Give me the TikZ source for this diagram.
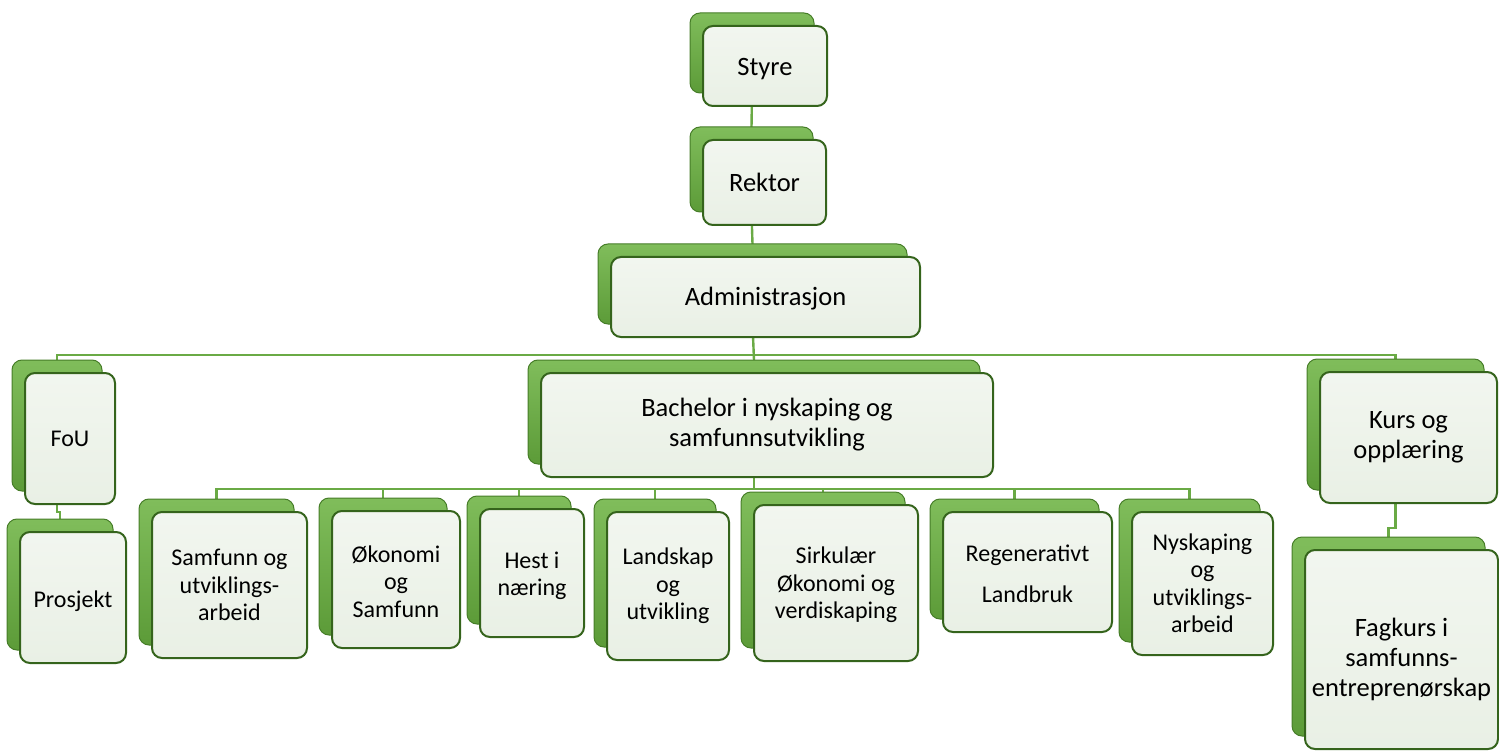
\documentclass[tikz,border=0pt]{standalone}
\usepackage{fontspec}
\setmainfont{Carlito}
\usetikzlibrary{backgrounds}
\definecolor{lineg}{HTML}{6AAA45}
\definecolor{shadg}{HTML}{5C9B38}
\definecolor{shadgd}{HTML}{467D28}
\definecolor{shadgl}{HTML}{80BD5B}
\definecolor{frontf}{HTML}{E9F0E5}
\definecolor{frontd}{HTML}{35641C}
\tikzset{
  shadowbox/.style={draw=shadgd, line width=1pt, rounded corners=10pt,
    top color=shadgl, bottom color=shadg, inner sep=0pt, outer sep=0pt},
  frontbox/.style={draw=frontd, line width=2pt, rounded corners=10pt,
    top color=frontf!60!white, bottom color=frontf, inner sep=0pt, outer sep=0pt},
  boxtext/.style={align=center, inner sep=0pt, text=black,
    font=\fontsize{24}{27.5}\selectfont},
  bigtext/.style={font=\fontsize{26.5}{30}\selectfont},
  conn/.style={draw=lineg, line width=2.4pt}
}
\newcommand\obox[7][]{%
  \pgfmathsetmacro\obW{#5-#3}\pgfmathsetmacro\obH{#6-#4}%
  \pgfmathsetmacro\obX{(#3+#5)/2}\pgfmathsetmacro\obY{(#4+#6)/2}%
  \node[shadowbox,minimum width=\obW pt,minimum height=\obH pt] (#2s) at (\obX-13,\obY-13) {};
  \node[frontbox,minimum width=\obW pt,minimum height=\obH pt] (#2) at (\obX,\obY) {};
  \node[boxtext,#1] (#2t) at (#2.center) {#7};%
}
\begin{document}
\begin{tikzpicture}[x=1pt,y=-1pt]
\useasboundingbox (0,0) rectangle (1499,751);
\obox[bigtext,yshift=-3pt]{styre}{703}{26}{827}{106}{Styre}
\obox[bigtext]{rektor}{703}{140}{826}{225}{Rektor}
\obox[bigtext,yshift=-2pt]{admin}{611}{257}{920}{337}{Administrasjon}
\obox{fou}{25}{373}{115}{504}{FoU}
\obox[yshift=-4pt]{prosjekt}{20}{532}{126}{663}{Prosjekt}
\obox[bigtext]{bach}{541}{373}{993}{477}{Bachelor i nyskaping og\\samfunnsutvikling}
\obox[bigtext]{kurs}{1320}{372}{1497}{503}{Kurs og\\opplæring}
\obox[bigtext,yshift=-10pt]{fag}{1305}{550}{1498}{749}{Fagkurs i\\samfunns-\\entreprenørskap}
\obox{samf}{152}{512}{307}{658}{Samfunn og\\utviklings-\\arbeid}
\obox[yshift=-2pt]{okon}{332}{511}{460}{648}{Økonomi\\og\\Samfunn}
\obox[yshift=-3pt]{hest}{480}{509}{584}{637}{Hest i\\næring}
\obox{land}{607}{512}{729}{660}{Landskap\\og\\utvikling}
\obox[yshift=-2pt]{sirk}{754}{505}{918}{661}{Sirkulær\\Økonomi og\\verdiskaping}
\obox[yshift=-2pt]{regen}{943}{512}{1112}{632}{Regenerativt\\[14pt]Landbruk}
\obox{nysk}{1132}{512}{1273}{655}{Nyskaping\\og\\utviklings-\\arbeid}
\coordinate (bus1) at (0,355);
\coordinate (bus2) at (0,489);
\coordinate (jog1) at (0,512);
\coordinate (jog2) at (0,528);
\begin{scope}[on background layer]
\draw[conn] (styres.south) -- (rektors.north);
\draw[conn] (rektors.south) -- (admins.north);
\draw[conn] (admins.south) -- (bachs.north);
\draw[conn] (admins.south |- bus1) -| (fous.north);
\draw[conn] (admins.south |- bus1) -| (kurss.north);
\draw[conn] (fous.south) -- (fous.south |- jog1) -| (prosjekts.north);
\draw[conn] (kurss.south) -- (kurss.south |- jog2) -| (fags.north);
\draw[conn] (bachs.south) -- (bachs.south |- bus2);
\foreach \c in {samfs,okons,hests,lands,sirks,regens,nysks}{
  \draw[conn] (bachs.south |- bus2) -| (\c.north);
}
\end{scope}
\end{tikzpicture}
\end{document}
